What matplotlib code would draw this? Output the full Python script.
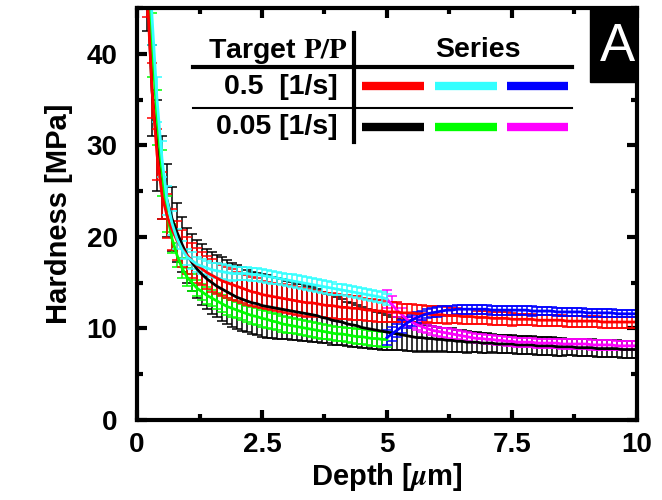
import matplotlib
matplotlib.use('Agg')
import matplotlib.pyplot as plt
from matplotlib.lines import Line2D
from matplotlib.patches import Rectangle
from matplotlib.ticker import MultipleLocator

plt.rcParams['font.family'] = ['Liberation Sans', 'DejaVu Sans']
plt.rcParams['font.weight'] = 'bold'
plt.rcParams['axes.labelweight'] = 'bold'
plt.rcParams['mathtext.fontset'] = 'stix'

# depth grids [um]
depth_lo = [0.2, 0.3, 0.4, 0.5, 0.6, 0.7, 0.8, 0.9,
            1.0, 1.1, 1.2, 1.3, 1.4, 1.5, 1.6, 1.7, 1.8, 1.9,
            2.0, 2.1, 2.2, 2.3, 2.4, 2.5, 2.6, 2.7, 2.8, 2.9,
            3.0, 3.1, 3.2, 3.3, 3.4, 3.5, 3.6, 3.7, 3.8, 3.9,
            4.0, 4.1, 4.2, 4.3, 4.4, 4.5, 4.6, 4.7, 4.8, 4.9,
            5.0]
depth_hi = [5.1, 5.2, 5.3, 5.4, 5.5, 5.6, 5.7, 5.8, 5.9, 6.0,
            6.1, 6.2, 6.3, 6.4, 6.5, 6.6, 6.7, 6.8, 6.9, 7.0,
            7.1, 7.2, 7.3, 7.4, 7.5, 7.6, 7.7, 7.8, 7.9, 8.0,
            8.1, 8.2, 8.3, 8.4, 8.5, 8.6, 8.7, 8.8, 8.9, 9.0,
            9.1, 9.2, 9.3, 9.4, 9.5, 9.6, 9.7, 9.8, 9.9, 10.0]

# ---- 0.5 1/s ----
red = [47, 36, 29, 24.5, 22.3, 20.8, 19.6, 18.7,
       18.0, 17.4, 16.9, 16.5, 16.1, 15.8, 15.5, 15.2, 15.0, 14.8,
       14.6, 14.4, 14.2, 14.0, 13.9, 13.7, 13.6, 13.5, 13.4, 13.3,
       13.2, 13.1, 13.0, 12.9, 12.8, 12.8, 12.7, 12.6, 12.5, 12.5,
       12.4, 12.3, 12.3, 12.2, 12.2, 12.1, 12.0, 12.0, 11.9, 11.9,
       11.8,
       11.8, 11.8, 11.7, 11.7, 11.7, 11.6, 11.6, 11.6, 11.5, 11.5,
       11.5, 11.4, 11.4, 11.4, 11.3, 11.3, 11.3, 11.2, 11.2, 11.2,
       11.1, 11.1, 11.1, 11.1, 11.0, 11.0, 11.0, 11.0, 11.0, 10.9,
       10.9, 10.9, 10.9, 10.9, 10.9, 10.8, 10.8, 10.8, 10.8, 10.8,
       10.8, 10.8, 10.7, 10.7, 10.7, 10.7, 10.7, 10.7, 10.7, 10.7]
red_err = [3.0, 3.0, 2.8, 2.6, 2.4, 2.2, 2.1, 2.0,
           2.0, 1.9, 1.9, 1.8, 1.8, 1.8, 1.7, 1.7, 1.7, 1.7,
           1.6, 1.6, 1.6, 1.6, 1.6, 1.5, 1.5, 1.5, 1.5, 1.5,
           1.5, 1.5, 1.5, 1.5, 1.5, 1.4, 1.4, 1.4, 1.4, 1.4,
           1.4, 1.3, 1.3, 1.3, 1.3, 1.2, 1.2, 1.2, 1.2, 1.2,
           1.1,
           1.1, 1.1, 1.0, 1.0, 1.0, 1.0, 1.0, 0.9, 0.9, 0.9,
           0.9, 0.9, 0.8, 0.8, 0.8, 0.8, 0.8, 0.7, 0.7, 0.7,
           0.7, 0.7, 0.7, 0.7, 0.7, 0.6, 0.6, 0.6, 0.6, 0.6,
           0.6, 0.6, 0.6, 0.6, 0.6, 0.6, 0.6, 0.6, 0.6, 0.6,
           0.6, 0.6, 0.6, 0.6, 0.6, 0.6, 0.6, 0.6, 0.6, 0.6]
cyan = [55, 44, 35, 28.5, 24, 21.5, 19.8, 18.6,
        17.8, 17.4, 17.0, 16.8, 16.6, 16.4, 16.3, 16.2, 16.1, 16.0,
        16.0, 16.0, 16.0, 15.9, 15.9, 15.8, 15.7, 15.6, 15.5, 15.4,
        15.3, 15.2, 15.1, 15.0, 14.9, 14.8, 14.7, 14.6, 14.5, 14.4,
        14.3, 14.2, 14.1, 14.0, 13.9, 13.8, 13.7, 13.6, 13.5, 13.4,
        13.2]
cyan_err = [3.0, 3.0, 2.5, 2.0, 1.6, 1.3, 1.1, 1.0,
            0.9, 0.9, 0.8, 0.8, 0.8, 0.8, 0.8, 0.8, 0.8, 0.8,
            0.7, 0.7, 0.7, 0.7, 0.7, 0.7, 0.7, 0.7, 0.7, 0.7,
            0.7, 0.7, 0.7, 0.7, 0.7, 0.7, 0.7, 0.7, 0.7, 0.7,
            0.6, 0.6, 0.6, 0.6, 0.6, 0.6, 0.6, 0.6, 0.6, 0.6,
            0.6]
blue = [9.0, 9.4, 9.8, 10.2, 10.6, 10.9, 11.2, 11.4, 11.6, 11.7,
        11.8, 11.9, 12.0, 12.0, 12.1, 12.1, 12.1, 12.1, 12.1, 12.1,
        12.1, 12.0, 12.0, 12.0, 12.0, 12.0, 12.0, 12.0, 12.0, 11.9,
        11.9, 11.9, 11.9, 11.9, 11.8, 11.8, 11.8, 11.8, 11.8, 11.8,
        11.7, 11.7, 11.7, 11.7, 11.7, 11.7, 11.6, 11.6, 11.6, 11.6,
        11.6]
blue_err = [0.8, 0.8, 0.7, 0.7, 0.6, 0.6, 0.6, 0.5, 0.5, 0.5,
            0.5, 0.5, 0.5, 0.5, 0.5, 0.5, 0.5, 0.5, 0.5, 0.5,
            0.5, 0.5, 0.5, 0.5, 0.5, 0.5, 0.5, 0.5, 0.5, 0.5,
            0.4, 0.4, 0.4, 0.4, 0.4, 0.4, 0.4, 0.4, 0.4, 0.4,
            0.4, 0.4, 0.4, 0.4, 0.4, 0.4, 0.4, 0.4, 0.4, 0.4,
            0.4]

# ---- 0.05 1/s ----
black = [48, 36, 30, 26.5, 24, 22, 20.5, 19.2,
         18.0, 17.2, 16.5, 15.9, 15.4, 15.0, 14.6, 14.3, 14.0, 13.7,
         13.4, 13.2, 13.0, 12.8, 12.7, 12.5, 12.4, 12.3, 12.2, 12.1,
         12.0, 11.9, 11.8, 11.7, 11.6, 11.5, 11.4, 11.2, 11.1, 10.9,
         10.8, 10.7, 10.5, 10.4, 10.3, 10.1, 10.0, 9.9, 9.8, 9.7,
         9.6,
         9.5, 9.4, 9.3, 9.2, 9.1, 9.0, 9.0, 8.9, 8.9, 8.8,
         8.8, 8.7, 8.7, 8.6, 8.6, 8.5, 8.5, 8.5, 8.4, 8.4,
         8.4, 8.3, 8.3, 8.3, 8.3, 8.2, 8.2, 8.2, 8.2, 8.1,
         8.1, 8.1, 8.1, 8.0, 8.0, 8.0, 8.0, 7.9, 7.9, 7.9,
         7.9, 7.8, 7.8, 7.8, 7.8, 7.8, 7.7, 7.7, 7.7, 7.7]
black_err = [5.5, 5.0, 5.0, 4.5, 4.0, 3.5, 3.2, 3.0,
             3.0, 3.1, 3.2, 3.3, 3.3, 3.4, 3.4, 3.5, 3.5, 3.5,
             3.5, 3.5, 3.4, 3.4, 3.4, 3.4, 3.4, 3.3, 3.3, 3.3,
             3.2, 3.2, 3.1, 3.1, 3.0, 3.0, 2.9, 2.8, 2.7, 2.7,
             2.6, 2.5, 2.4, 2.4, 2.3, 2.2, 2.1, 2.1, 2.0, 2.0,
             1.9,
             1.8, 1.8, 1.7, 1.7, 1.6, 1.6, 1.5, 1.5, 1.4, 1.4,
             1.3, 1.3, 1.3, 1.2, 1.2, 1.2, 1.1, 1.1, 1.1, 1.1,
             1.0, 1.0, 1.0, 1.0, 1.0, 1.0, 1.0, 1.0, 1.0, 1.0,
             1.0, 1.0, 1.0, 1.0, 1.0, 0.9, 0.9, 0.9, 0.9, 0.9,
             0.9, 0.9, 0.9, 0.9, 0.9, 0.9, 0.9, 0.9, 0.9, 0.9]
green = [52, 41, 33, 27, 22.5, 19.8, 18.0, 16.6,
         15.6, 15.0, 14.4, 14.0, 13.6, 13.3, 13.0, 12.7, 12.4, 12.2,
         12.0, 11.8, 11.6, 11.4, 11.3, 11.1, 11.0, 10.8, 10.7, 10.5,
         10.4, 10.3, 10.2, 10.1, 10.0, 9.9, 9.8, 9.7, 9.6, 9.5,
         9.4, 9.4, 9.3, 9.2, 9.1, 9.1, 9.0, 8.9, 8.9, 8.8,
         8.8]
green_err = [4.0, 3.5, 3.0, 2.5, 2.0, 1.6, 1.3, 1.1,
             1.0, 0.9, 0.9, 0.9, 0.9, 0.9, 0.9, 0.9, 0.9, 0.9,
             0.9, 0.9, 0.9, 0.9, 0.9, 0.9, 0.9, 0.9, 0.9, 0.9,
             0.9, 0.8, 0.8, 0.8, 0.8, 0.8, 0.8, 0.8, 0.8, 0.8,
             0.8, 0.8, 0.8, 0.8, 0.8, 0.8, 0.8, 0.8, 0.8, 0.8,
             0.8]
magenta = [13.2, 12.6, 12.0, 11.5, 11.0, 10.7, 10.4, 10.2, 10.0, 9.8,
           9.7, 9.6, 9.5, 9.4, 9.3, 9.2, 9.1, 9.0, 8.9, 8.9,
           8.8, 8.8, 8.7, 8.7, 8.6, 8.6, 8.5, 8.5, 8.5, 8.5,
           8.4, 8.4, 8.4, 8.4, 8.4, 8.3, 8.3, 8.3, 8.3, 8.3,
           8.3, 8.2, 8.2, 8.2, 8.2, 8.2, 8.1, 8.1, 8.1, 8.1,
           8.1]
magenta_err = [1.0, 0.9, 0.8, 0.7, 0.7, 0.6, 0.6, 0.6, 0.5, 0.5,
               0.5, 0.5, 0.5, 0.5, 0.5, 0.5, 0.5, 0.5, 0.5, 0.5,
               0.5, 0.5, 0.5, 0.5, 0.5, 0.5, 0.5, 0.5, 0.5, 0.5,
               0.5, 0.5, 0.5, 0.5, 0.5, 0.5, 0.5, 0.5, 0.5, 0.5,
               0.5, 0.5, 0.5, 0.5, 0.5, 0.5, 0.5, 0.5, 0.5, 0.5,
               0.5]

depth_full = depth_lo + depth_hi
depth_second = [5.0] + depth_hi

series = [
    (depth_full, black, black_err, '#000000'),
    (depth_lo, green, green_err, '#00ff00'),
    (depth_second, magenta, magenta_err, '#ff00ff'),
    (depth_full, red, red_err, '#ff0000'),
    (depth_lo, cyan, cyan_err, '#33ffff'),
    (depth_second, blue, blue_err, '#0000ff'),
]

fig = plt.figure(figsize=(6.62, 5), dpi=100)
ax = fig.add_axes([0.207, 0.16, 0.755, 0.824])

for d, h, e, c in series:
    ax.errorbar(d, h, yerr=e, color=c, lw=2, elinewidth=1.1,
                capsize=3.5, capthick=1.1)

ax.set_xlim(0, 10)
ax.set_ylim(0, 45)
ax.xaxis.set_minor_locator(MultipleLocator(1.25))
ax.yaxis.set_major_locator(MultipleLocator(10))
ax.yaxis.set_minor_locator(MultipleLocator(5))
ax.set_xticks([0, 2.5, 5, 7.5, 10], ['0', '2.5', '5', '7.5', '10'])
ax.tick_params(which='both', direction='in', top=True, right=True,
               labelsize=20, width=3)
ax.tick_params(which='major', length=7)
ax.tick_params(which='minor', length=4)
ax.tick_params(axis='x', pad=9)
ax.tick_params(axis='y', pad=14)
for s in ax.spines.values():
    s.set_linewidth(3)

ax.set_xlabel(r'Depth [$\mu$m]', fontsize=21, labelpad=2)
ax.set_ylabel('Hardness [MPa]', fontsize=21, labelpad=10)


def fx(x):
    return x / 662


def fy(y):
    return 1 - y / 500


# table-style legend
fig.add_artist(Line2D([fx(193), fx(572)], [fy(67), fy(67)], color='k', lw=3, transform=fig.transFigure))
fig.add_artist(Line2D([fx(193), fx(572)], [fy(108), fy(108)], color='k', lw=1.5, transform=fig.transFigure))
fig.add_artist(Line2D([fx(354), fx(354)], [fy(33), fy(142)], color='k', lw=3, transform=fig.transFigure))
fig.text(fx(347), fy(58), r'Target $\mathbf{P/P}$', ha='right', va='baseline', fontsize=20.5)
fig.text(fx(478), fy(57), 'Series', ha='center', va='baseline', fontsize=20.5)
fig.text(fx(338), fy(87), '0.5  [1/s]', ha='right', va='center', fontsize=20.5)
fig.text(fx(338), fy(127), '0.05 [1/s]', ha='right', va='center', fontsize=20.5)

row_colors = [['#ff0000', '#33ffff', '#0000ff'], ['#000000', '#00ff00', '#ff00ff']]
row_y = [86, 127]
bar_x = [(362, 424), (435, 497), (507, 568)]
for ry, cols in zip(row_y, row_colors):
    for (x1, x2), c in zip(bar_x, cols):
        fig.add_artist(Line2D([fx(x1), fx(x2)], [fy(ry), fy(ry)], color=c, lw=6,
                              solid_capstyle='butt', transform=fig.transFigure))

# panel label
fig.add_artist(Rectangle((fx(590), fy(82)), fx(637) - fx(590), fy(8) - fy(82),
                         color='k', transform=fig.transFigure))
fig.text(fx(617), fy(47), 'A', color='white', ha='center', va='center',
         fontsize=38, fontweight='normal')

fig.savefig('out.png', dpi=100)
